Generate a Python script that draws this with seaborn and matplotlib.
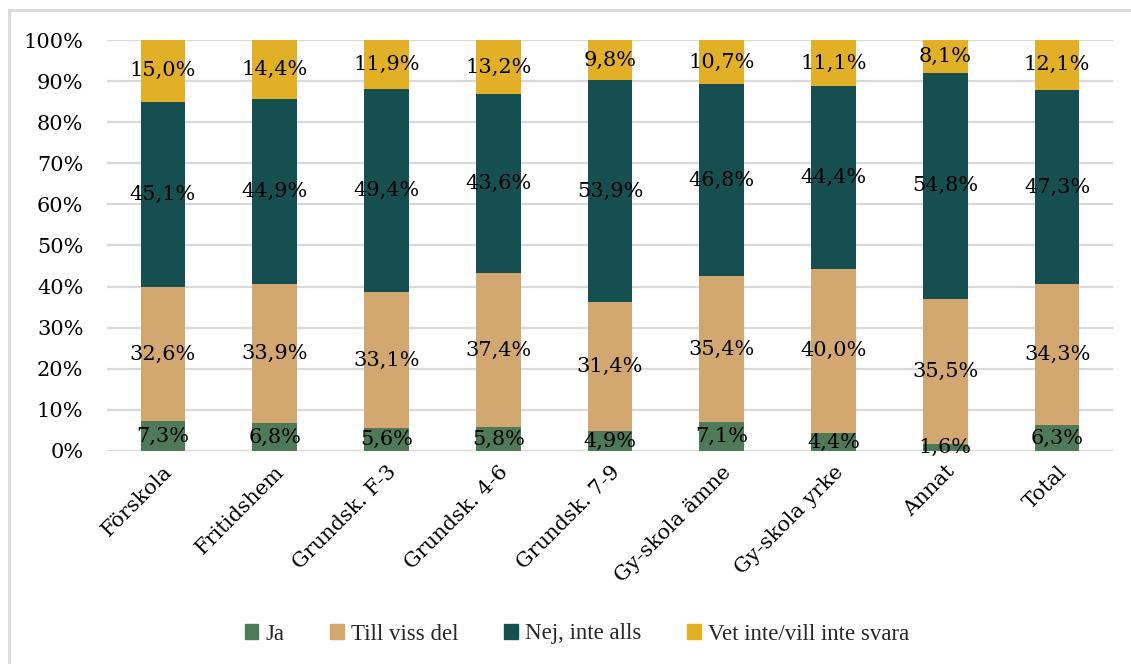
import matplotlib
matplotlib.use("Agg")
import matplotlib.pyplot as plt
import matplotlib.patches as mpatches
import numpy as np
import pandas as pd
import seaborn as sns

# data (percent)
categories = ["Förskola", "Fritidshem", "Grundsk. F-3", "Grundsk. 4-6",
              "Grundsk. 7-9", "Gy-skola ämne", "Gy-skola yrke", "Annat", "Total"]
ja = [7.3, 6.8, 5.6, 5.8, 4.9, 7.1, 4.4, 1.6, 6.3]
till_viss_del = [32.6, 33.9, 33.1, 37.4, 31.4, 35.4, 40.0, 35.5, 34.3]
nej = [45.1, 44.9, 49.4, 43.6, 53.9, 46.8, 44.4, 54.8, 47.3]
vet_inte = [15.0, 14.4, 11.9, 13.2, 9.8, 10.7, 11.1, 8.1, 12.1]

series = ["Ja", "Till viss del", "Nej, inte alls", "Vet inte/vill inte svara"]
colors = ["#4f7a57", "#d3a870", "#154f4f", "#e2b027"]

df = pd.DataFrame({"kategori": categories, series[0]: ja,
                   series[1]: till_viss_del, series[2]: nej,
                   series[3]: vet_inte})

sns.set_theme(style="white")
serif = ["DejaVu Serif"]

fig = plt.figure(figsize=(11.31, 6.64), dpi=100)
ax = fig.add_axes([107 / 1131, 1 - 451 / 664, (1113 - 107) / 1131, 411 / 664])

# cumulative sums, drawn from the top segment down so the stack shows
values = df[series].to_numpy()
cum = np.cumsum(values, axis=1)
for i in range(len(series) - 1, -1, -1):
    sns.barplot(x=df["kategori"], y=cum[:, i], color=colors[i], width=0.4,
                saturation=1, linewidth=0, edgecolor="none", ax=ax, zorder=3)

# value labels centred in each segment
for j in range(len(categories)):
    for i in range(len(series)):
        mid = cum[j, i] - values[j, i] / 2
        txt = f"{values[j, i]:.1f}%".replace(".", ",")
        ax.text(j, mid, txt, ha="center", va="center", fontsize=15,
                family=serif, color="black", zorder=5)

ax.set_ylim(0, 100)
ax.set_xlim(-0.5, len(categories) - 0.5)
ax.set_yticks(range(0, 101, 10))
ax.set_yticklabels([f"{v}%" for v in range(0, 101, 10)], family=serif,
                   fontsize=15, color="black")
ax.set_xticks(range(len(categories)))
ax.set_xticklabels(categories, rotation=45, ha="right", va="top",
                   rotation_mode="anchor", family=serif, fontsize=15,
                   color="black")
ax.tick_params(axis="y", length=0, pad=17)
ax.tick_params(axis="x", length=0, pad=8)
ax.set_xlabel("")
ax.set_ylabel("")
ax.yaxis.grid(True, color="#d9d9d9", linewidth=1.6, zorder=0)
ax.set_axisbelow(True)
for s in ax.spines.values():
    s.set_visible(False)

handles = [mpatches.Patch(color=c, label=l) for c, l in zip(colors, series)]
fig.legend(handles=handles, loc="center", bbox_to_anchor=(0.51, 1 - 634 / 664),
           ncol=4, frameon=False, handlelength=0.6, handleheight=0.6,
           handletextpad=0.3, columnspacing=2.0,
           prop={"family": "Liberation Serif", "size": 16.5})

# light outer frame of the chart area
fig.patches.append(mpatches.Rectangle((9 / 1131, -0.01), 1.2, 1 - 10 / 664 + 0.01,
                                      transform=fig.transFigure, fill=False,
                                      edgecolor="#d9d9d9", linewidth=2))

fig.savefig("out.png", dpi=100)
